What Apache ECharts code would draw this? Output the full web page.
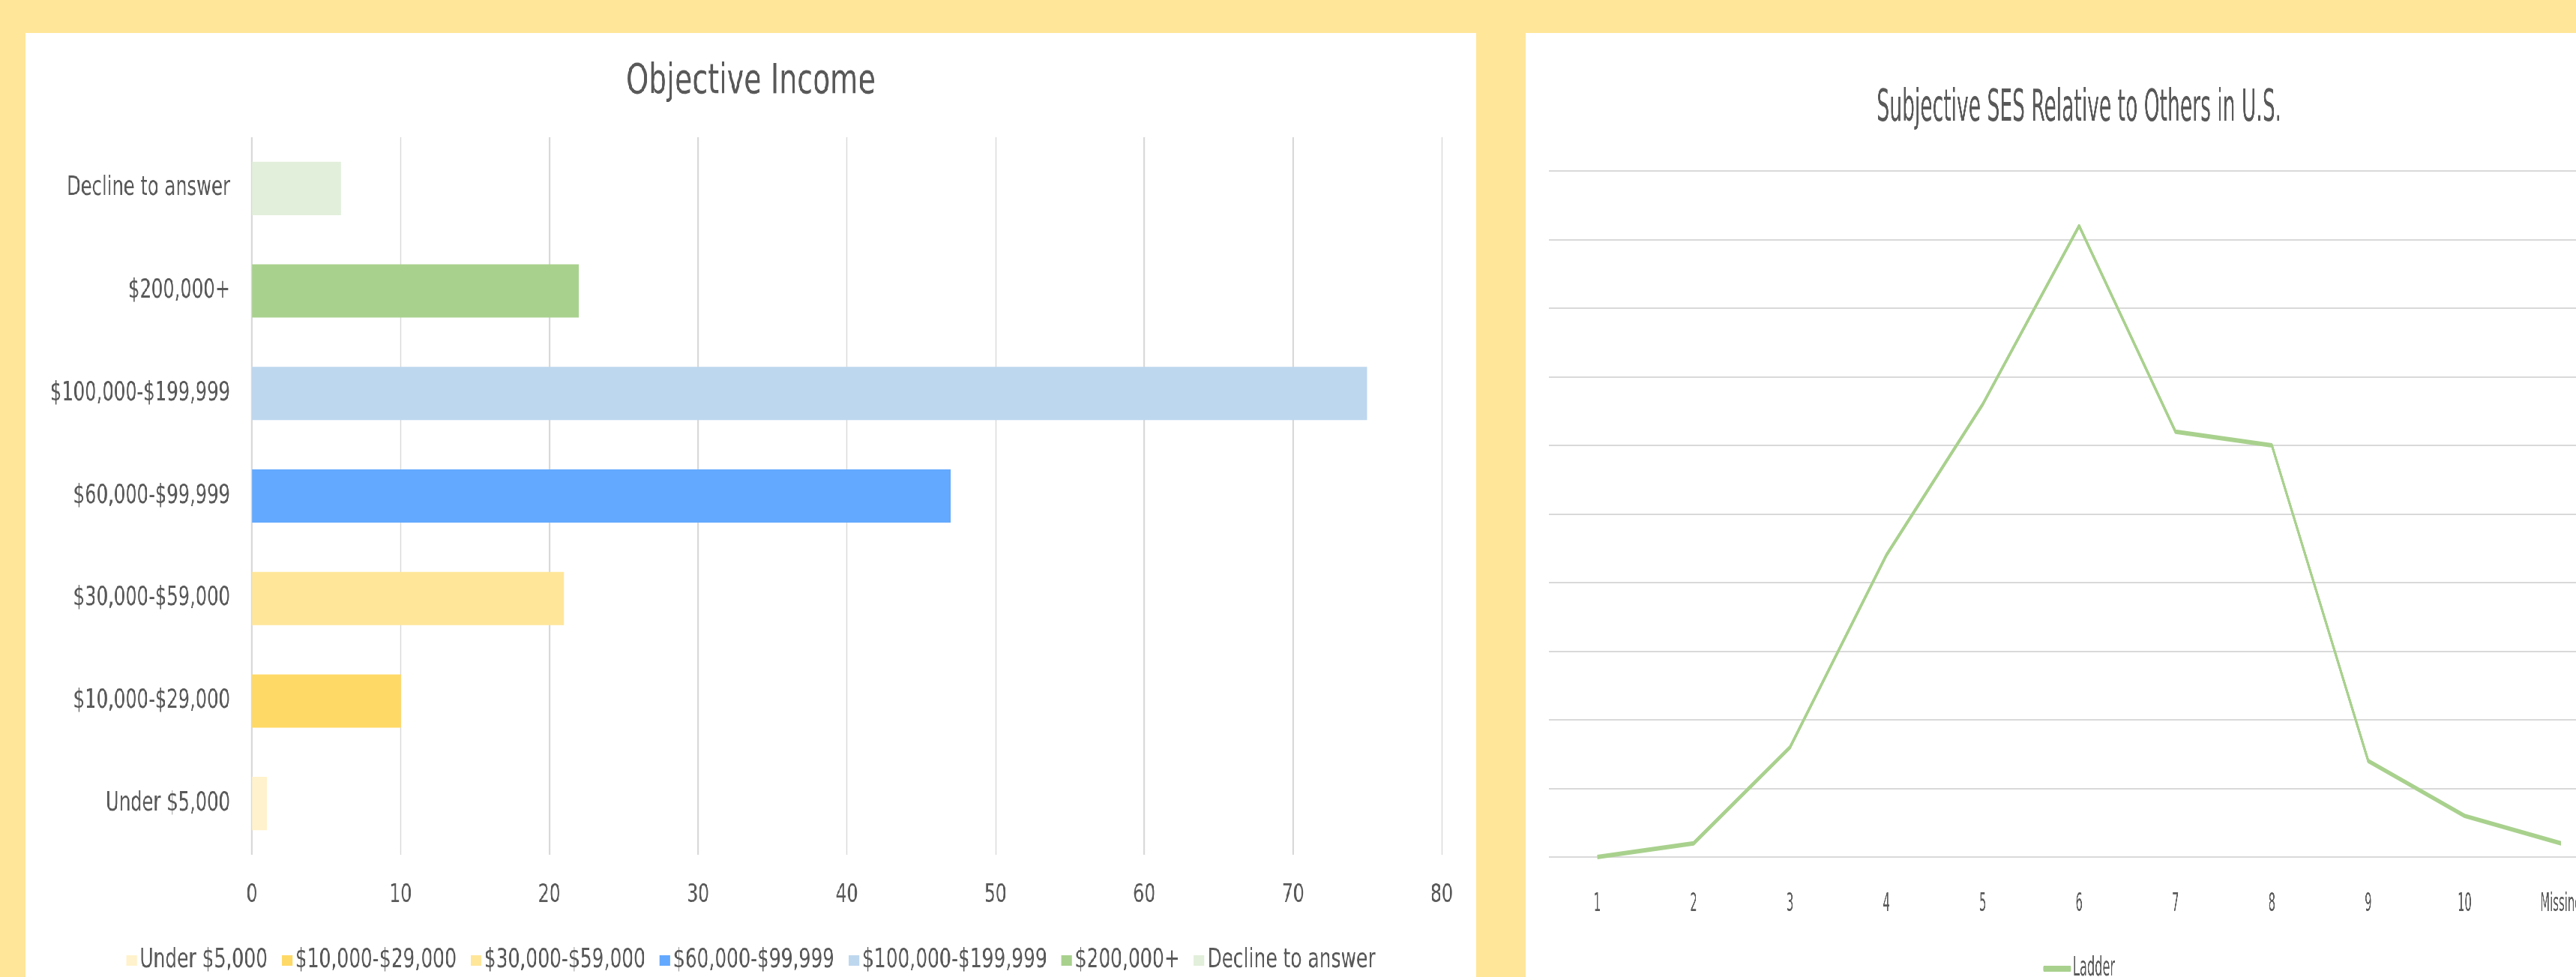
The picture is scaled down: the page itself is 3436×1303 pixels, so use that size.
<!DOCTYPE html>
<html>
<head>
<meta charset="utf-8">
<script src="https://cdn.jsdelivr.net/npm/echarts@6/dist/echarts.min.js"></script>
<style>
  html, body { margin: 0; padding: 0; width: 3436px; height: 1303px; overflow: hidden; background: #FFE699; position: relative; }
  /* the reference text is horizontally condensed: draw wide, then condense */
  #left { position: absolute; left: 34px; top: 44px; width: 2513px; height: 1259px; background: #FFFFFF; transform: scaleX(0.77); transform-origin: 0 0; }
  #right { position: absolute; left: 2035px; top: 44px; width: 2952px; height: 1259px; background: #FFFFFF; transform: scaleX(0.5); transform-origin: 0 0; }
</style>
</head>
<body>
<div id="left"></div>
<div id="right"></div>
<script>
// ---- Data ----
const incomeCategories = ['Under $5,000', '$10,000-$29,000', '$30,000-$59,000', '$60,000-$99,999', '$100,000-$199,999', '$200,000+', 'Decline to answer'];
const incomeValues = [1, 10, 21, 47, 75, 22, 6];
const incomeColors = ['#FFF2CC', '#FFD966', '#FFE699', '#63A9FF', '#BDD7EE', '#A9D18E', '#E2EFDA'];
const incomeTicks = [0, 10, 20, 30, 40, 50, 60, 70, 80];

const ladderCategories = ['1', '2', '3', '4', '5', '6', '7', '8', '9', '10', 'Missing'];
const ladderValues = [0, 1, 8, 22, 33, 46, 31, 30, 7, 3, 1];

const FONT = '"Liberation Sans Narrow", "DejaVu Sans Condensed", "Arial Narrow", sans-serif';
const TXT = '#595959';
const GRID = '#D9D9D9';
const KL = 0.77, KR = 0.5;

// ---- Left chart ----
const left = echarts.init(document.getElementById('left'));
left.setOption({
  animation: false,
  backgroundColor: '#FFFFFF',
  textStyle: { fontFamily: FONT, color: TXT },
  title: {
    text: 'Objective Income',
    left: 'center',
    top: 33,
    textStyle: { fontFamily: FONT, fontSize: 55, fontWeight: 'normal', color: TXT }
  },
  legend: {
    left: 'center',
    top: 1214,
    itemWidth: 14 / KL,
    itemHeight: 14,
    itemGap: 19 / KL,
    icon: 'rect',
    data: incomeCategories,
    textStyle: { fontFamily: FONT, fontSize: 36, color: TXT }
  },
  grid: { left: 302 / KL, right: 46 / KL, top: 139, bottom: 163, containLabel: false, outerBoundsMode: 'none' },
  xAxis: {
    type: 'value',
    min: incomeTicks[0],
    max: incomeTicks[incomeTicks.length - 1],
    interval: incomeTicks[1] - incomeTicks[0],
    axisLine: { show: false },
    axisTick: { show: false },
    axisLabel: { margin: 37, fontFamily: FONT, fontSize: 34, color: TXT },
    splitLine: { show: true, lineStyle: { color: GRID, width: 2.4 } }
  },
  yAxis: {
    type: 'category',
    data: incomeCategories,
    axisLine: { show: false },
    axisTick: { show: false },
    axisLabel: { margin: 29 / KL, fontFamily: FONT, fontSize: 35, color: TXT }
  },
  series: incomeCategories.map((name, i) => ({
    name: name,
    type: 'bar',
    stack: 'income',
    barCategoryGap: '48%',
    itemStyle: { color: incomeColors[i] },
    data: incomeCategories.map((c, j) => (j === i ? incomeValues[i] : '-'))
  }))
});

// ---- Right chart ----
const right = echarts.init(document.getElementById('right'));
right.setOption({
  animation: false,
  backgroundColor: '#FFFFFF',
  textStyle: { fontFamily: FONT, color: TXT },
  title: {
    text: 'Subjective SES Relative to Others in U.S.',
    left: 'center',
    top: 67,
    textStyle: { fontFamily: FONT, fontSize: 59, fontWeight: 'normal', color: TXT }
  },
  legend: {
    left: 'center',
    top: 1225,
    icon: 'roundRect',
    itemWidth: 37 / KR,
    itemHeight: 8,
    itemGap: 10,
    data: ['Ladder'],
    textStyle: { fontFamily: FONT, fontSize: 36, color: TXT }
  },
  grid: { left: 31 / KR, right: 31 / KR, top: 184, bottom: 160, containLabel: false, outerBoundsMode: 'none' },
  xAxis: {
    type: 'category',
    data: ladderCategories,
    boundaryGap: true,
    axisLine: { show: true, lineStyle: { color: GRID, width: 2 } },
    axisTick: { show: false },
    axisLabel: { margin: 47, fontFamily: FONT, fontSize: 33, color: TXT }
  },
  yAxis: {
    type: 'value',
    min: 0,
    max: 50,
    interval: 5,
    axisLine: { show: false },
    axisTick: { show: false },
    axisLabel: { show: false },
    splitLine: { show: true, lineStyle: { color: GRID, width: 2 } }
  },
  series: [{
    name: 'Ladder',
    type: 'line',
    data: ladderValues,
    showSymbol: false,
    symbol: 'none',
    itemStyle: { color: '#A9D18E' },
    lineStyle: { color: '#A9D18E', width: 6 }
  }]
});
</script>
</body>
</html>
